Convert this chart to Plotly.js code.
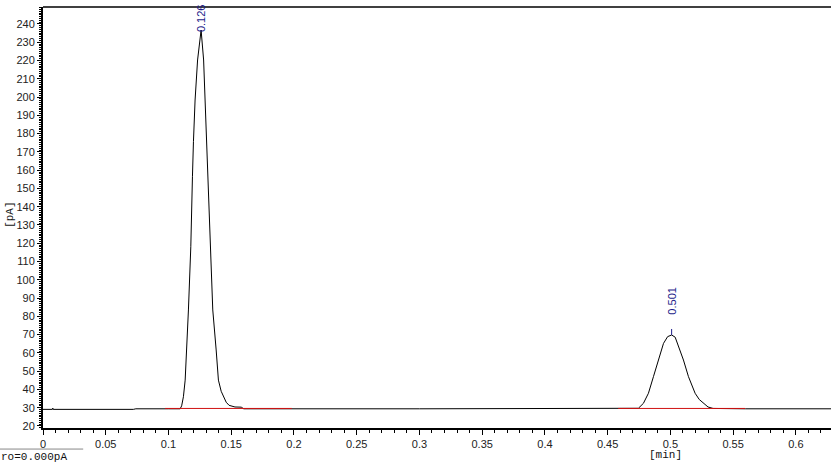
<!DOCTYPE html>
<html><head><meta charset="utf-8">
<script src="https://cdn.plot.ly/plotly-3.0.1.min.js"></script>
<style>html,body{margin:0;padding:0;background:#fff;}#chart{width:831px;height:463px;}</style>
</head><body><div id="chart"></div>
<script>
// Chromatogram signal (time in min, signal in pA)
const timeMin = [0, 0.0075, 0.0078, 0.0081, 0.072, 0.074, 0.1000, 0.1093, 0.1105, 0.1119, 0.1133, 0.1146, 0.1159, 0.1178, 0.1183, 0.1191, 0.1199, 0.1212, 0.1232, 0.1260, 0.1280, 0.1292, 0.1305, 0.1318, 0.1326, 0.1337, 0.1353, 0.1380, 0.1398, 0.1420, 0.1438, 0.1460, 0.1483, 0.1530, 0.1580, 0.1600, 0.3000, 0.4700, 0.4745, 0.4785, 0.4825, 0.4865, 0.4905, 0.4945, 0.4978, 0.5010, 0.5038, 0.5056, 0.5104, 0.5144, 0.5197, 0.5230, 0.5263, 0.5300, 0.5340, 0.5600, 0.6280];
const signalPA = [29.1, 29.1, 29.8, 29.1, 29.1, 29.4, 29.4, 29.4, 31.0, 36.0, 45.1, 61.6, 83.5, 118.1, 137.3, 156.4, 175.6, 198.4, 220.3, 236.7, 220.3, 198.4, 175.6, 156.4, 137.3, 118.1, 83.5, 61.6, 45.1, 39.0, 36.0, 33.0, 31.3, 30.4, 30.3, 29.4, 29.4, 29.4, 29.7, 32.4, 37.9, 47.0, 56.1, 65.2, 68.9, 69.8, 68.6, 65.2, 56.1, 47.0, 37.9, 34.5, 32.4, 30.4, 29.6, 29.4, 29.4];
// Integration baselines
const base1Time = [0.0973, 0.1983];
const base1Val = [29.6, 29.6];
const base2Time = [0.4584, 0.5596];
const base2Val = [29.6, 29.6];
// Peak retention-time labels
const peakTimes = [0.126, 0.501];
const peakHeights = [236.7, 69.8];
const peakLabels = ["0.126", "0.501"];
const yTicks = [20, 30, 40, 50, 60, 70, 80, 90, 100, 110, 120, 130, 140, 150, 160, 170, 180, 190, 200, 210, 220, 230, 240];
const xTicks = [0, 0.05, 0.1, 0.15, 0.2, 0.25, 0.3, 0.35, 0.4, 0.45, 0.5, 0.55, 0.6];

const tickFont = {family: "Liberation Sans, Arial, sans-serif", size: 11, color: "#222"};
const monoFont = {family: "Liberation Mono, DejaVu Sans Mono, monospace", size: 11, color: "#111"};

const traces = [
  {x: timeMin, y: signalPA, type: "scatter", mode: "lines", line: {color: "#000", width: 1}, hoverinfo: "skip"},
  {x: base1Time, y: base1Val, type: "scatter", mode: "lines", line: {color: "#d01010", width: 1}, hoverinfo: "skip"},
  {x: base2Time, y: base2Val, type: "scatter", mode: "lines", line: {color: "#d01010", width: 1}, hoverinfo: "skip"}
];

const yShifts = [-4, 18];
const annotations = peakTimes.map((t, i) => ({
  x: t, y: peakHeights[i], xref: "x", yref: "y", text: peakLabels[i], showarrow: false,
  textangle: -90, yanchor: "bottom", xanchor: "center", yshift: yShifts[i],
  font: {family: "Liberation Sans, Arial, sans-serif", size: 11, color: "#1c1c8a"}
}));
annotations.push(
  {x: 0.79, y: -0.064, xref: "paper", yref: "paper", text: "[min]", showarrow: false, font: monoFont, xanchor: "center", yanchor: "middle"},
  {x: -0.042, y: 0.506, xref: "paper", yref: "paper", text: "[pA]", showarrow: false, textangle: -90, font: monoFont, xanchor: "center", yanchor: "middle"},
  {x: -0.056, y: -0.068, xref: "paper", yref: "paper", text: "ro=0.000pA", showarrow: false, font: monoFont, xanchor: "left", yanchor: "middle"}
);

const shapes = peakTimes.slice(1).map((t, i) => ({
  type: "line", xref: "x", yref: "y", ysizemode: "pixel", yanchor: peakHeights[i + 1],
  x0: t, x1: t, y0: 0, y1: 6, line: {color: "#1c1c8a", width: 1}
}));
shapes.push(
  {type: "line", xref: "paper", yref: "paper", x0: 0, x1: 1, y0: 1, y1: 1, line: {color: "#000", width: 1.5}},
  {type: "line", xref: "paper", yref: "paper", x0: -0.056, x1: 0.051, y0: -0.05, y1: -0.05, line: {color: "#888", width: 1}}
);

const layout = {
  width: 831, height: 463,
  margin: {l: 43, r: 0, t: 7, b: 35},
  paper_bgcolor: "#fff", plot_bgcolor: "#fff",
  showlegend: false,
  xaxis: {
    range: [0, 0.628], tickvals: xTicks, ticktext: xTicks.map(String),
    showgrid: false, zeroline: false, showline: true, linecolor: "#000", linewidth: 2,
    ticks: "outside", ticklen: 5, tickcolor: "#000", tickfont: tickFont,
    minor: {dtick: 0.01, ticks: "outside", ticklen: 3, tickcolor: "#000", showgrid: false}
  },
  yaxis: {
    range: [18.9, 249.3], tickvals: yTicks, ticktext: yTicks.map(String),
    showgrid: false, zeroline: false, showline: true, linecolor: "#000", linewidth: 2,
    ticks: "outside", ticklen: 4, tickcolor: "#000", tickfont: tickFont,
    minor: {dtick: 1, ticks: "outside", ticklen: 2, tickcolor: "#000", showgrid: false}
  },
  annotations: annotations,
  shapes: shapes
};

Plotly.newPlot("chart", traces, layout, {staticPlot: true, displayModeBar: false});
</script></body></html>
